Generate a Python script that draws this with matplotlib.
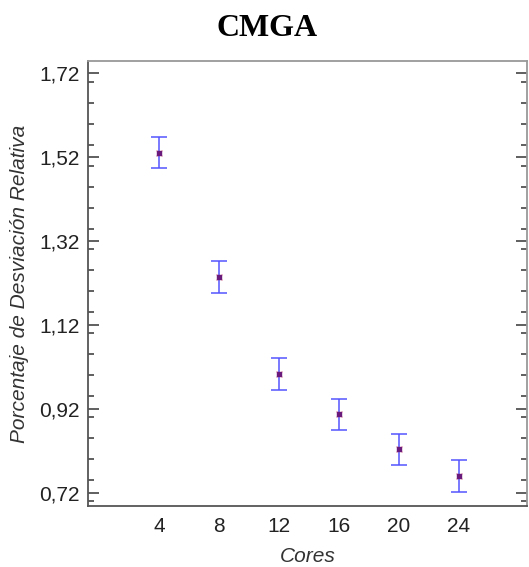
import matplotlib.pyplot as plt
from matplotlib.ticker import FixedLocator, MultipleLocator, FuncFormatter

# data
cores = [4, 8, 12, 16, 20, 24]
prd = [1.530, 1.235, 1.003, 0.908, 0.824, 0.760]
err = [0.037, 0.038, 0.038, 0.037, 0.037, 0.038]
yticks = [0.72, 0.92, 1.12, 1.32, 1.52, 1.72]

plt.rcParams["font.family"] = ["Liberation Sans", "DejaVu Sans"]

fig = plt.figure(figsize=(5.29, 5.67), dpi=100)
ax = fig.add_axes([88 / 529, 1 - 506 / 567, 439 / 529, 445 / 567])

ax.errorbar(cores, prd, yerr=err, fmt="none", ecolor="#5555ff", elinewidth=1.3,
            capsize=6, capthick=1.3, alpha=0.85)
ax.plot(cores, prd, linestyle="none", marker="x", markersize=4, color="#d06080",
        markeredgewidth=1.0, alpha=0.7)
ax.plot(cores, prd, linestyle="none", marker="s", markersize=2.2, color="#6a1a7a")

ax.set_xlim(-0.73, 28.53)
ax.set_ylim(0.689, 1.749)
ax.set_xticks(cores)
ax.yaxis.set_major_locator(FixedLocator(yticks))
ax.yaxis.set_minor_locator(MultipleLocator(0.05))
ax.yaxis.set_major_formatter(FuncFormatter(lambda v, p: f"{v:.2f}".replace(".", ",")))

ax.tick_params(axis="y", which="major", direction="in", length=8, width=1.2,
               color="#444444", labelsize=15, labelcolor="#222222", right=True, pad=6)
ax.tick_params(axis="y", which="minor", direction="in", length=4, width=1.2,
               color="#444444", right=True)
ax.tick_params(axis="x", length=0, labelsize=15, labelcolor="#222222", pad=8)

for s in ax.spines.values():
    s.set_color("#555555")
    s.set_linewidth(1.3)
ax.spines["top"].set_color("#999999")
ax.spines["right"].set_color("#999999")

ax.set_xlabel("Cores", fontsize=15, style="italic", color="#333333", labelpad=8)
ax.set_ylabel("Porcentaje de Desviación Relativa", fontsize=15, style="italic",
              color="#333333", labelpad=7)

fig.text(267 / 529, 1 - 28 / 567, "CMGA", ha="center", va="center", fontsize=23,
         fontweight="bold", family=["Liberation Serif", "DejaVu Serif"])

fig.savefig("out.png", dpi=100)
